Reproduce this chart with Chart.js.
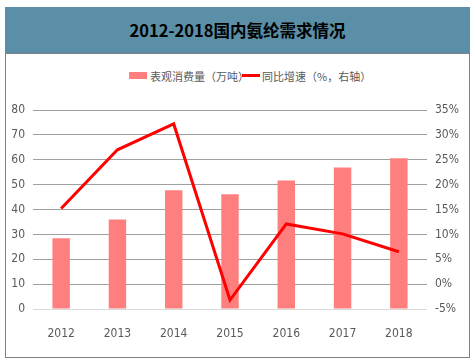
<!DOCTYPE html>
<html><head><meta charset="utf-8">
<script src="https://cdn.jsdelivr.net/npm/chart.js@4/dist/chart.umd.min.js"></script>
<style>
html,body{margin:0;padding:0;width:475px;height:363px;background:#fff;overflow:hidden;}
#frame{position:absolute;left:5px;top:7px;width:463px;height:349px;border:1px solid #808080;}
#band{position:absolute;left:5px;top:7px;width:465px;height:46px;background:#5b8fa7;border-bottom:1px solid #808080;}
#title{position:absolute;left:0;top:7px;width:475px;height:46px;line-height:46px;text-align:center;font-family:"Noto Sans CJK SC";font-weight:bold;font-size:16.5px;color:#000;}
#legend{position:absolute;top:68px;left:0;width:475px;height:16px;font-family:"Noto Sans CJK SC";font-size:11px;color:#595959;}
.lg{position:absolute;top:0;line-height:16px;white-space:nowrap;}
#c{position:absolute;left:0;top:0;}
</style></head>
<body>
<div id="frame"></div>
<div id="band"></div>
<div id="title">2012-2018国内氨纶需求情况</div>
<div id="legend">
  <span style="position:absolute;left:129px;top:4px;width:18px;height:7px;background:#ff7f7f;"></span>
  <span class="lg" style="left:150px;">表观消费量（万吨）</span>
  <span style="position:absolute;left:242px;top:6px;width:18px;height:3px;background:#ff0000;"></span>
  <span class="lg" style="left:262px;">同比增速（%，右轴）</span>
</div>
<canvas id="c" width="475" height="363"></canvas>
<script>
const categories = ["2012","2013","2014","2015","2016","2017","2018"];
const consumption = [28.4, 36.0, 47.7, 46.1, 51.7, 56.9, 60.6];
const growth = [15.2, 27.0, 32.2, -3.2, 12.1, 10.1, 6.5];
const leftTicks = [0,10,20,30,40,50,60,70,80];
const rightTicks = [-5,0,5,10,15,20,25,30,35];

const tickFont = {family:"'Liberation Sans Narrow','DejaVu Sans','Liberation Sans'", size:12, weight:'condensed'};
new Chart(document.getElementById('c'), {
  data: {
    labels: categories,
    datasets: [
      {type:'line', label:'同比增速（%，右轴）', data:growth, yAxisID:'y2', borderColor:'#ff0000', borderWidth:3, pointRadius:0, tension:0, fill:false, order:0},
      {type:'bar', label:'表观消费量（万吨）', data:consumption, yAxisID:'y', backgroundColor:'#ff7f7f', categoryPercentage:1, barPercentage:0.31, order:1}
    ]
  },
  options: {
    responsive:false, animation:false,
    layout:{padding:{top:110, left:0, right:0, bottom:0}},
    plugins:{legend:{display:false}, tooltip:{enabled:false}},
    scales:{
      x:{offset:true, grid:{display:false}, border:{display:false},
         ticks:{color:'#595959', font:tickFont, padding:10},
         afterFit:s=>{s.height=54;}},
      y:{position:'left', min:0, max:80, border:{display:false},
         afterBuildTicks:s=>{s.ticks=leftTicks.map(v=>({value:v}));},
         grid:{drawTicks:false, color:c=>c.tick.value===0?'#d9d9d9':'#a0a0a0', lineWidth:1},
         ticks:{color:'#595959', font:tickFont, padding:8},
         afterFit:s=>{s.width=33;}},
      y2:{position:'right', min:-5, max:35, border:{display:false},
         afterBuildTicks:s=>{s.ticks=rightTicks.map(v=>({value:v}));},
         grid:{display:false, drawTicks:false},
         ticks:{color:'#595959', font:tickFont, padding:8, callback:v=>v+'%'},
         afterFit:s=>{s.width=48;}}
    }
  }
});
</script>
</body></html>
